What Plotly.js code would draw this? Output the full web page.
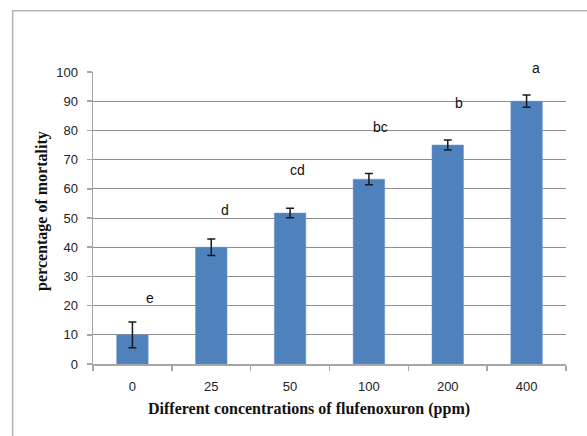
<!DOCTYPE html>
<html>
<head>
<meta charset="utf-8">
<script src="https://cdn.plot.ly/plotly-3.0.1.min.js"></script>
<style>
  html, body { margin: 0; padding: 0; background: #fff; }
  #chart { width: 587px; height: 436px; }
</style>
</head>
<body>
<div id="chart"></div>
<script>
// ---- data ----
const concentrations = ['0', '25', '50', '100', '200', '400'];
const mortality = [10, 40, 51.7, 63.3, 75, 90];
const errors = [4.4, 2.8, 1.6, 1.9, 1.7, 2.1];
const letters = ['e', 'd', 'cd', 'bc', 'b', 'a'];
const letterHeights = [22.6, 52.7, 66.5, 81.3, 89.4, 101.4];
const yRange = [0, 100];

// ---- style ----
const letterXShift = [18, 14, 7, 12, 11, 9];
const gridColor = '#8e8e8e';
const axisColor = '#a6a6a6';

const trace = {
  type: 'bar',
  x: concentrations,
  y: mortality,
  marker: { color: '#4f81bd', line: { color: '#6d97cc', width: 0.5 } },
  error_y: { type: 'data', array: errors, visible: true, color: '#1a1a1a', thickness: 1.5, width: 4 },
  hoverinfo: 'none'
};

// category axis: annotation x given as category index; y in paper units so labels above the range still show
const annotations = letters.map((t, i) => ({
  x: i, y: (letterHeights[i] - yRange[0]) / (yRange[1] - yRange[0]), xref: 'x', yref: 'paper',
  xanchor: 'center', yanchor: 'middle',
  text: t, showarrow: false, xshift: letterXShift[i],
  font: { family: 'Liberation Sans, Arial, sans-serif', size: 14, color: '#111' }
}));

annotations.push({
  xref: 'paper', yref: 'paper', x: 0.456, y: -0.155, xanchor: 'center', yanchor: 'middle',
  text: '<b>Different concentrations of flufenoxuron (ppm)</b>', showarrow: false,
  font: { family: 'Liberation Serif, Times New Roman, serif', size: 16, color: '#111' }
});
annotations.push({
  xref: 'paper', yref: 'paper', x: -0.108, y: 0.524, xanchor: 'center', yanchor: 'middle',
  text: '<b>percentage of mortality</b>', showarrow: false, textangle: -90,
  font: { family: 'Liberation Serif, Times New Roman, serif', size: 16, color: '#111' }
});

const layout = {
  width: 587, height: 436,
  margin: { l: 93, r: 21, t: 72, b: 72 },
  paper_bgcolor: '#fff', plot_bgcolor: '#fff',
  showlegend: false,
  bargap: 0.6,
  xaxis: {
    type: 'category',
    range: [-0.5, 5.5],
    showgrid: false,
    showline: true, linecolor: axisColor, linewidth: 1.5,
    ticks: 'outside', tickson: 'boundaries', ticklen: 5, tickcolor: axisColor, tickwidth: 1.5,
    ticklabelstandoff: 10, tickangle: 0,
    tickfont: { family: 'Liberation Sans, Arial, sans-serif', size: 13, color: '#222' },
    zeroline: false, fixedrange: true
  },
  yaxis: {
    range: yRange,
    tickvals: [0, 10, 20, 30, 40, 50, 60, 70, 80, 90, 100],
    showgrid: true, gridcolor: gridColor, gridwidth: 1,
    showline: true, linecolor: axisColor, linewidth: 1.5,
    ticks: 'outside', ticklen: 5, tickcolor: axisColor, tickwidth: 1.5,
    ticklabelstandoff: 6,
    tickfont: { family: 'Liberation Sans, Arial, sans-serif', size: 13, color: '#222' },
    zeroline: false, fixedrange: true
  },
  annotations: annotations,
  shapes: [{
    type: 'rect', xref: 'paper', yref: 'paper',
    x0: -0.170, x1: 1.3, y0: -0.5, y1: 1.21,
    line: { color: '#b3b3b3', width: 1.5 }, fillcolor: 'rgba(0,0,0,0)', layer: 'below'
  }]
};

Plotly.newPlot('chart', [trace], layout, { staticPlot: true, displayModeBar: false });
</script>
</body>
</html>
